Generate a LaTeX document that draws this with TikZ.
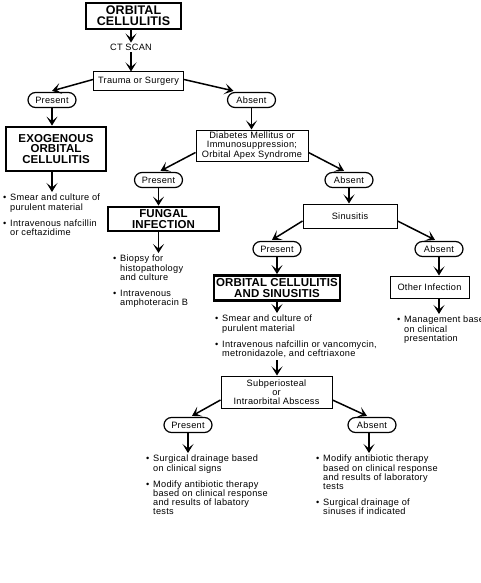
\documentclass[tikz,border=0pt]{standalone}
\usepackage{fontspec}
\setmainfont{Liberation Sans}
\newfontfamily\smf[LetterSpace=3]{Liberation Sans}
\newfontfamily\bhf[LetterSpace=1]{Liberation Sans}
\usetikzlibrary{arrows.meta}
\newcommand\smtxt{\fontsize{9.2}{9.2}\selectfont\smf}
\newcommand\bhtxt{\fontsize{11.5}{10.2}\selectfont\bhf\bfseries}
\newcommand\tttxt{\fontsize{12.5}{11}\selectfont\bhf\bfseries}
\newcommand\bu{\makebox[7pt][l]{•}}
\newcommand\ii{\hspace*{7pt}}
\begin{document}
\begin{tikzpicture}[x=1pt,y=-1pt,
  every node/.style={font=\smtxt, inner sep=0pt},
  box/.style={draw, line width=1pt, align=center},
  tbox/.style={draw, line width=2.8pt, align=center, font=\bhtxt},
  oval/.style={draw, line width=1.2pt, rounded corners=7.5pt, minimum width=48pt, minimum height=15pt},
  arr/.style={line width=1.5pt, -{Stealth[length=9pt,width=11pt,inset=4.5pt]}},
  blist/.style={anchor=north west, align=left, font=\smtxt}]
\useasboundingbox (0,0) rectangle (480,583);
% nodes
\node[tbox, font=\tttxt, minimum width=95pt, minimum height=26pt] (top) at (133.5,16) {ORBITAL\\CELLULITIS};
\node (ct) at (131,47) {CT SCAN};
\node[box, minimum width=90pt, minimum height=19pt] (tr) at (138.5,81.5) {Trauma or Surgery};
\node[oval] (p1) at (52,100) {Present};
\node[oval] (a1) at (251.5,100) {Absent};
\node[tbox, minimum width=100pt, minimum height=44pt] (exo) at (56,149) {EXOGENOUS\\ORBITAL\\CELLULITIS};
\node[blist] (la) at (3,194) {\bu Smear and culture of\\ \ii purulent material\\[7pt] \bu Intravenous nafcillin\\ \ii or ceftazidime};
\node[box, minimum width=112pt, minimum height=31pt] (dia) at (252,145.5) {Diabetes Mellitus or\\Immunosuppression;\\Orbital Apex Syndrome};
\node[oval] (p2) at (158.5,180) {Present};
\node[oval] (a2) at (349,180) {Absent};
\node[tbox, minimum width=111pt, minimum height=24pt] (fun) at (163.5,219) {FUNGAL\\INFECTION};
\node[blist] (lb) at (113,255) {\bu Biopsy for\\ \ii histopathology\\ \ii and culture\\[7pt] \bu Intravenous\\ \ii amphoteracin B};
\node[box, minimum width=94pt, minimum height=24pt] (sin) at (350,216) {Sinusitis};
\node[oval] (p3) at (277,249) {Present};
\node[oval] (a3) at (439,249) {Absent};
\node[tbox, minimum width=126pt, minimum height=25pt] (orb) at (277,288) {ORBITAL CELLULITIS\\AND SINUSITIS};
\node[blist] (lc) at (215,315) {\bu Smear and culture of\\ \ii purulent material\\[7pt] \bu Intravenous nafcillin or vancomycin,\\ \ii metronidazole, and ceftriaxone};
\node[box, minimum width=79pt, minimum height=22pt] (oth) at (429.5,287) {Other Infection};
\node[blist] (ld) at (397,316) {\bu Management based\\ \ii on clinical\\ \ii presentation};
\node[box, minimum width=111pt, minimum height=32pt] (sub) at (276.5,392) {Subperiosteal\\or\\Intraorbital Abscess};
\node[oval] (p4) at (188,425) {Present};
\node[oval] (a4) at (372,425) {Absent};
\node[blist] (le) at (146,455) {\bu Surgical drainage based\\ \ii on clinical signs\\[7pt] \bu Modify antibiotic therapy\\ \ii based on clinical response\\ \ii and results of labatory\\ \ii tests};
\node[blist] (lf) at (316,455) {\bu Modify antibiotic therapy\\ \ii based on clinical response\\ \ii and results of laboratory\\ \ii tests\\[7pt] \bu Surgical drainage of\\ \ii sinuses if indicated};
% connectors
\draw[arr] (top.south -| ct.north) -- ([yshift=1pt]ct.north);
\draw[arr] ([yshift=-2pt]ct.south) -- (ct.south |- tr.north);
\draw[arr] ([yshift=2pt]tr.west) -- ([yshift=1pt]p1.north);
\draw[arr] ([yshift=2pt]tr.east) -- ([xshift=-18pt,yshift=1pt]a1.north);
\draw[arr] (p1.south) -- (p1.south |- exo.north);
\draw[arr] (exo.south -| p1.south) -- ([yshift=2pt]la.north -| p1.south);
\draw[arr] (a1.south) -- (a1.south |- dia.north);
\draw[arr] ([yshift=-7pt]dia.west) -- ([xshift=2pt,yshift=1pt]p2.north);
\draw[arr] ([yshift=-7pt]dia.east) -- ([xshift=-5pt,yshift=1pt]a2.north);
\draw[arr] (p2.south) -- (p2.south |- fun.north);
\draw[arr] (fun.south -| p2.south) -- ([yshift=2pt]lb.north -| p2.south);
\draw[arr] (a2.south) -- (a2.south |- sin.north);
\draw[arr] ([yshift=-5pt]sin.west) -- ([xshift=-5pt,yshift=1pt]p3.north);
\draw[arr] ([yshift=-5pt]sin.east) -- ([xshift=-4pt,yshift=1pt]a3.north);
\draw[arr] (p3.south) -- (p3.south |- orb.north);
\draw[arr] (orb.south -| p3.south) -- ([yshift=2pt]lc.north -| p3.south);
\draw[arr] ([yshift=-2pt]lc.south -| p3.south) -- (p3.south |- sub.north);
\draw[arr] (a3.south) -- (a3.south |- oth.north);
\draw[arr] (oth.south -| a3.south) -- ([yshift=2pt]ld.north -| a3.south);
\draw[arr] ([yshift=-8pt]sub.west) -- ([xshift=4pt,yshift=1pt]p4.north);
\draw[arr] ([yshift=-8pt]sub.east) -- ([xshift=-5pt,yshift=1pt]a4.north);
\draw[arr] (p4.south) -- ([yshift=2pt]le.north -| p4.south);
\draw[arr] ([xshift=-3pt]a4.south) -- ([xshift=-3pt,yshift=2pt]lf.north -| a4.south);
\end{tikzpicture}
\end{document}
